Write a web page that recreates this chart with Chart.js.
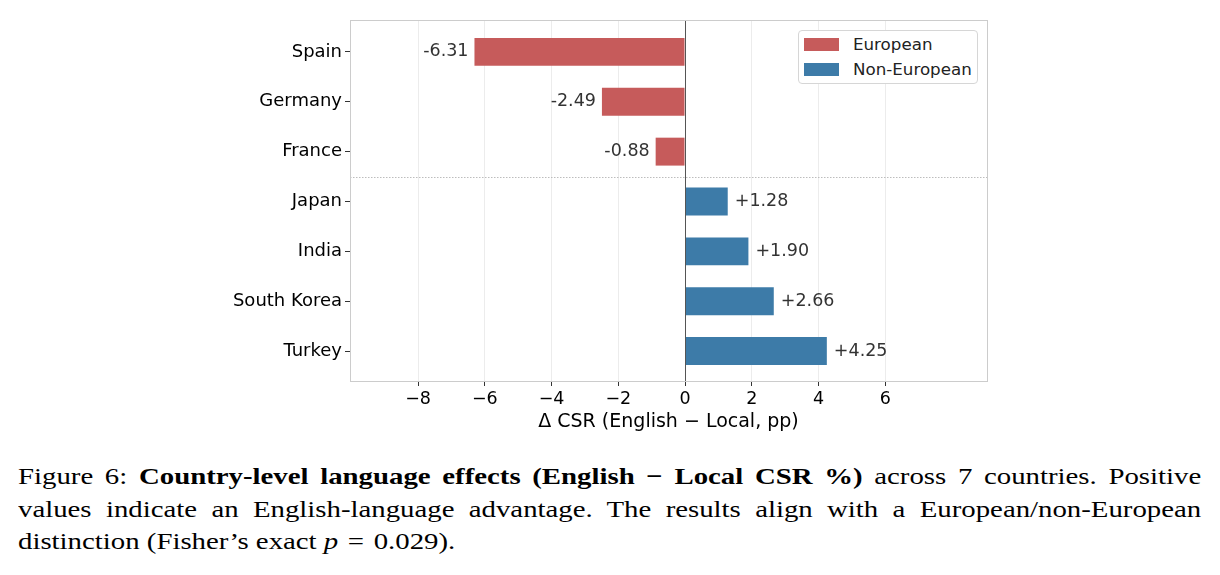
<!DOCTYPE html>
<html>
<head>
<meta charset="utf-8">
<script src="https://cdn.jsdelivr.net/npm/chart.js@4.4.1/dist/chart.umd.min.js"></script>
<style>
  body { margin: 0; background: #fff; width: 1220px; height: 575px; overflow: hidden; position: relative; }
  #wrap { position: absolute; left: 0; top: 0; width: 1220px; height: 440px; }
  #legend { position: absolute; left: 798px; top: 30px; width: 178px; height: 52px; border: 1px solid #d6d6d6;
            border-radius: 4px; background: #fff; font: 16.7px "DejaVu Sans", sans-serif; color: #222; }
  .item { position: absolute; left: 5px; height: 20px; line-height: 20px; white-space: nowrap; }
  .patch { display: inline-block; width: 35px; height: 13px; vertical-align: -1px; margin-right: 14px; }
  #caption { position: absolute; left: 18px; top: 460px; font: 24px "Liberation Serif", "Times New Roman", serif;
             line-height: 32.5px; color: #000; }
  #caption div { width: 986px; transform: scaleX(1.2); transform-origin: 0 0; text-align: justify; text-align-last: justify; white-space: nowrap; }
  #caption div.last { text-align-last: left; }
  .eq { display: inline-block; margin: 0 8px; }
</style>
</head>
<body>
<div id="wrap"><canvas id="chart"></canvas></div>
<div id="legend"></div>
<div id="caption">
  <div>Figure 6: <b>Country-level language effects (English − Local CSR %)</b> across 7 countries. Positive</div>
  <div>values indicate an English-language advantage. The results align with a European/non-European</div>
  <div class="last">distinction (Fisher’s exact <i>p</i><span class="eq">=</span>0.029).</div>
</div>
<script>
// Данные
const countries = ["Spain", "Germany", "France", "Japan", "India", "South Korea", "Turkey"];
const europeanValues = [-6.31, -2.49, -0.88];
const nonEuropeanValues = [1.28, 1.90, 2.66, 4.25];
const xTicks = [-8, -6, -4, -2, 0, 2, 4, 6];

const redColor = '#c65b5b';
const blueColor = '#3d7ba8';

const europeanData = europeanValues.map((v, i) => ({ x: v, y: i }));
const nonEuropeanData = nonEuropeanValues.map((v, i) => ({ x: v, y: i + europeanValues.length }));

// Рамка, разделитель и подписи значений
const extras = {
    id: 'extras',
    beforeDatasetsDraw(chart) {
        const { ctx, chartArea: a, scales } = chart;
        const yy = scales.y.getPixelForValue(europeanValues.length - 0.5);
        ctx.save();
        ctx.strokeStyle = '#bdbdbd';
        ctx.lineWidth = 1;
        ctx.setLineDash([1.5, 1.5]);
        ctx.beginPath();
        ctx.moveTo(a.left, Math.round(yy) + 0.5);
        ctx.lineTo(a.right, Math.round(yy) + 0.5);
        ctx.stroke();
        ctx.restore();
    },
    afterDatasetsDraw(chart) {
        const { ctx, chartArea: a, scales } = chart;
        ctx.save();
        const x0 = Math.round(scales.x.getPixelForValue(0)) + 0.5;
        ctx.strokeStyle = '#555';
        ctx.lineWidth = 1;
        ctx.beginPath();
        ctx.moveTo(x0, a.top);
        ctx.lineTo(x0, a.bottom);
        ctx.stroke();

        ctx.strokeStyle = '#cccccc';
        ctx.strokeRect(Math.round(a.left) + 0.5, Math.round(a.top) + 0.5, Math.round(a.width), Math.round(a.height));

        ctx.font = '17.5px "DejaVu Sans", sans-serif';
        ctx.fillStyle = '#333';
        ctx.textBaseline = 'middle';
        chart.data.datasets.forEach((ds, di) => {
            chart.getDatasetMeta(di).data.forEach((bar, i) => {
                const v = ds.data[i].x;
                const txt = (v > 0 ? '+' : '') + v.toFixed(2);
                if (v < 0) {
                    ctx.textAlign = 'right';
                    ctx.fillText(txt, bar.x - 6, bar.y);
                } else {
                    ctx.textAlign = 'left';
                    ctx.fillText(txt, bar.x + 7, bar.y);
                }
            });
        });
        ctx.restore();
    }
};

const chart = new Chart(document.getElementById('chart').getContext('2d'), {
    type: 'bar',
    data: {
        datasets: [
            { label: 'European', data: europeanData, backgroundColor: redColor, borderColor: redColor,
              borderWidth: 0, barPercentage: 0.56, categoryPercentage: 1, grouped: false },
            { label: 'Non-European', data: nonEuropeanData, backgroundColor: blueColor, borderColor: blueColor,
              borderWidth: 0, barPercentage: 0.56, categoryPercentage: 1, grouped: false }
        ]
    },
    options: {
        indexAxis: 'y',
        responsive: true,
        maintainAspectRatio: false,
        animation: false,
        layout: { padding: { left: 0, right: 233, top: 20, bottom: 0 } },
        plugins: { legend: { display: false }, tooltip: { enabled: false } },
        scales: {
            x: {
                type: 'linear',
                min: -10.04,
                max: 9.05,
                afterBuildTicks: s => { s.ticks = xTicks.map(v => ({ value: v })); },
                afterFit: s => { s.height = 59; },
                border: { display: false },
                grid: { color: '#ececec', lineWidth: 1, tickLength: 5, tickColor: '#333' },
                ticks: {
                    color: '#000', padding: 3,
                    font: { family: 'DejaVu Sans', size: 17.5 },
                    callback: v => v < 0 ? '\u2212' + Math.abs(v) : String(v)
                },
                title: {
                    display: true, text: 'Δ CSR (English − Local, pp)', color: '#000',
                    font: { family: 'DejaVu Sans', size: 19 }, padding: { top: 0, bottom: 7 }
                }
            },
            y: {
                type: 'linear',
                reverse: true,
                offset: false,
                min: -0.64,
                max: 6.6,
                afterBuildTicks: s => { s.ticks = countries.map((c, i) => ({ value: i })); },
                afterFit: s => { s.width = 350; },
                border: { display: false },
                grid: { offset: false, drawOnChartArea: false, tickLength: 5, tickColor: '#333' },
                ticks: {
                    color: '#000', padding: 3,
                    font: { family: 'DejaVu Sans', size: 18 },
                    callback: v => countries[v] || ''
                }
            }
        }
    },
    plugins: [extras]
});

// Легенда
const legend = document.getElementById('legend');
chart.data.datasets.forEach((ds, i) => {
    const item = document.createElement('div');
    item.className = 'item';
    item.style.top = (3 + i * 25) + 'px';
    item.innerHTML = '<span class="patch" style="background:' + ds.backgroundColor + '"></span>' + ds.label;
    legend.appendChild(item);
});
</script>
</body>
</html>
